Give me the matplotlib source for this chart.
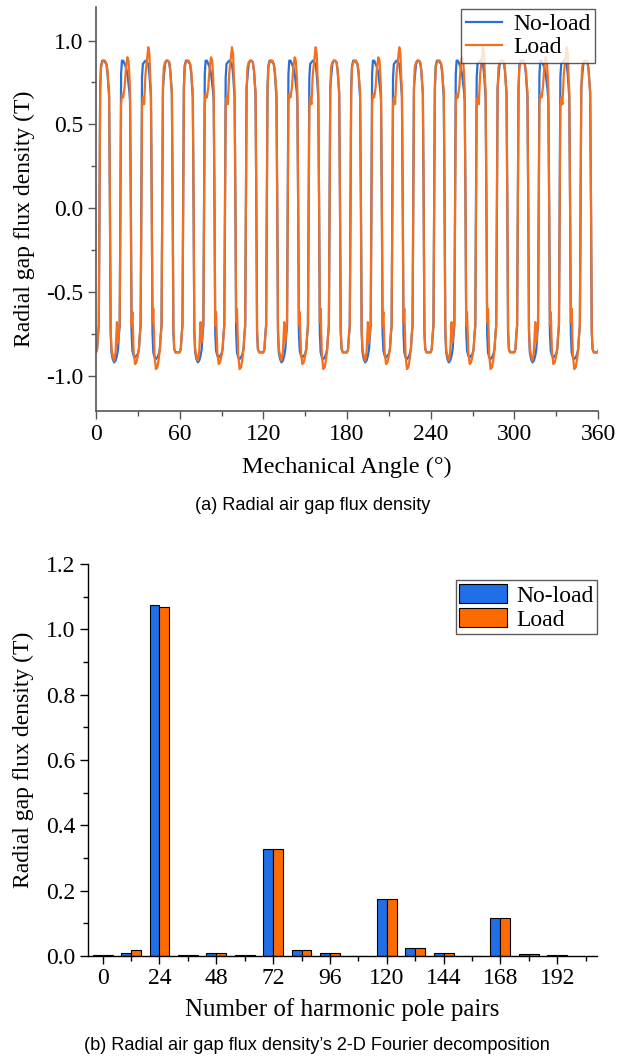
import numpy as np
import matplotlib
matplotlib.use("Agg")
import matplotlib.pyplot as plt
from matplotlib.ticker import MultipleLocator, FormatStrFormatter

plt.rcParams["font.family"] = ["Liberation Serif", "DejaVu Serif"]
plt.rcParams["axes.unicode_minus"] = False

# ---------------- (a) waveform data ----------------
# offsets (deg) inside one pole pair, measured from the rising zero crossing
pp_offsets = [0.0, 0.5, 1.1, 2.0, 3.0, 4.0, 5.0, 5.8, 6.4, 6.9, 7.5,
              8.0, 8.6, 9.5, 10.5, 11.5, 12.5, 13.3, 13.9, 14.5]
# four successive pole pairs (the pattern repeats every 60 deg)
noload_pp = [
    [0.0, 0.72, 0.85, 0.88, 0.88, 0.87, 0.86, 0.80, 0.72, 0.66, 0.0,
     -0.74, -0.86, -0.90, -0.92, -0.91, -0.88, -0.84, -0.76, -0.70],
    [0.0, 0.80, 0.88, 0.88, 0.86, 0.84, 0.80, 0.74, 0.70, 0.64, 0.0,
     -0.74, -0.85, -0.88, -0.89, -0.88, -0.87, -0.84, -0.76, -0.70],
    [0.0, 0.78, 0.86, 0.87, 0.88, 0.87, 0.86, 0.80, 0.72, 0.66, 0.0,
     -0.74, -0.86, -0.89, -0.90, -0.89, -0.87, -0.84, -0.76, -0.70],
    [0.0, 0.72, 0.78, 0.86, 0.88, 0.88, 0.87, 0.82, 0.74, 0.68, 0.0,
     -0.74, -0.84, -0.86, -0.86, -0.86, -0.86, -0.84, -0.76, -0.70],
]
load_pp = [
    [0.0, 0.70, 0.84, 0.87, 0.88, 0.88, 0.86, 0.82, 0.74, 0.70, 0.0,
     -0.72, -0.84, -0.88, -0.91, -0.86, -0.68, -0.80, -0.74, -0.68],
    [0.0, 0.62, 0.68, 0.66, 0.72, 0.84, 0.90, 0.88, 0.80, 0.70, 0.0,
     -0.70, -0.62, -0.86, -0.93, -0.92, -0.88, -0.84, -0.76, -0.70],
    [0.0, 0.60, 0.66, 0.62, 0.80, 0.88, 0.96, 0.92, 0.78, 0.70, 0.0,
     -0.68, -0.60, -0.88, -0.96, -0.95, -0.90, -0.84, -0.76, -0.70],
    [0.0, 0.70, 0.84, 0.87, 0.88, 0.88, 0.87, 0.82, 0.74, 0.70, 0.0,
     -0.72, -0.84, -0.86, -0.86, -0.86, -0.86, -0.84, -0.76, -0.70],
]
first_crossing = 2.5   # deg
pole_pair_pitch = 15.0  # deg (24 pole pairs)
n_segments = [-1, 0, 1, 2, 3, 4, 5]

ang, b_nl, b_ld = [], [], []
for s in n_segments:
    for k in range(4):
        base = first_crossing + pole_pair_pitch * (4 * s + k)
        ang.extend(base + np.array(pp_offsets))
        b_nl.extend(noload_pp[k])
        b_ld.extend(load_pp[k])
ang = np.array(ang)

# ---------------- (b) harmonic data ----------------
harmonic_orders = [0, 12, 24, 36, 48, 60, 72, 84, 96, 108, 120, 132, 144, 156, 168, 180, 192]
noload_amp = [0.004, 0.010, 1.074, 0.003, 0.010, 0.003, 0.327, 0.017, 0.010, 0.0,
              0.175, 0.024, 0.009, 0.0, 0.116, 0.006, 0.004]
load_amp = [0.004, 0.019, 1.068, 0.003, 0.010, 0.003, 0.327, 0.017, 0.008, 0.0,
            0.175, 0.024, 0.008, 0.0, 0.117, 0.006, 0.003]

C_BLUE_L = "#2a6fd6"
C_ORNG_L = "#f2701f"
C_BLUE_B = "#1f6fe6"
C_ORNG_B = "#ff6a00"

W, H = 618, 1059
fig = plt.figure(figsize=(W / 100, H / 100), dpi=100)

def fx(px):
    return px / W

def fy(py):
    return 1 - py / H

FS = 17
SANS = ["Liberation Sans", "DejaVu Sans"]

# ---------- top axes ----------
top_px, bot_px, l_px, r_px = 7, 411, 96, 598
ax1 = fig.add_axes([fx(l_px), fy(bot_px), fx(r_px - l_px), (bot_px - top_px) / H])
ax1.plot(ang, b_nl, color=C_BLUE_L, lw=1.6, label="No-load")
ax1.plot(ang, b_ld, color=C_ORNG_L, lw=1.6, label="Load")
ax1.set_xlim(0, 360)
ax1.set_ylim(-1.21, 1.2)
ax1.xaxis.set_major_locator(MultipleLocator(60))
ax1.xaxis.set_minor_locator(MultipleLocator(30))
ax1.yaxis.set_major_locator(MultipleLocator(0.5))
ax1.yaxis.set_minor_locator(MultipleLocator(0.25))
ax1.yaxis.set_major_formatter(FormatStrFormatter("%.1f"))
for sp in ["top", "right"]:
    ax1.spines[sp].set_visible(False)
for sp in ["left", "bottom"]:
    ax1.spines[sp].set_color("#555555")
    ax1.spines[sp].set_linewidth(1.2)
ax1.tick_params(which="major", direction="out", length=6, width=1.0, color="#555555",
                labelsize=FS, pad=3)
ax1.tick_params(which="minor", direction="out", length=3.5, width=1.0, color="#555555")
ax1.set_xlabel("Mechanical Angle (°)", fontsize=17.5, labelpad=9)
ax1.set_ylabel("Radial gap flux density (T)", fontsize=FS)
ax1.yaxis.set_label_coords(-0.122, 0.475)
leg1 = ax1.legend(loc="upper right", bbox_to_anchor=(0.995, 0.995), fontsize=FS,
                  frameon=True, fancybox=False, borderaxespad=0, borderpad=0.2,
                  labelspacing=0.05, handlelength=1.5, handletextpad=0.5)
leg1.get_frame().set_edgecolor("#333333")
leg1.get_frame().set_linewidth(1.0)

fig.text(fx(313), fy(506), "(a) Radial air gap flux density", ha="center", va="center",
         fontsize=13.1, family=SANS)

# ---------- bottom axes ----------
ax2 = fig.add_axes([fx(88), fy(956), fx(597 - 88), (956 - 564) / H])
bw = 4.2
x = np.array(harmonic_orders, dtype=float)
ax2.bar(x - bw / 2, noload_amp, width=bw, color=C_BLUE_B, edgecolor="black", lw=0.8,
        label="No-load")
ax2.bar(x + bw / 2, load_amp, width=bw, color=C_ORNG_B, edgecolor="black", lw=0.8,
        label="Load")
ax2.set_xlim(-6.2, 208.8)
ax2.set_ylim(0, 1.2)
ax2.xaxis.set_major_locator(MultipleLocator(24))
ax2.xaxis.set_minor_locator(MultipleLocator(12))
ax2.yaxis.set_major_locator(MultipleLocator(0.2))
ax2.yaxis.set_minor_locator(MultipleLocator(0.1))
ax2.yaxis.set_major_formatter(FormatStrFormatter("%.1f"))
for sp in ["top", "right"]:
    ax2.spines[sp].set_visible(False)
for sp in ["left", "bottom"]:
    ax2.spines[sp].set_linewidth(1.0)
ax2.tick_params(which="major", direction="out", length=6, width=1.0, labelsize=FS, pad=3)
ax2.tick_params(which="minor", direction="out", length=3.5, width=1.0)
ax2.set_xlabel("Number of harmonic pole pairs", fontsize=18, labelpad=6)
ax2.set_ylabel("Radial gap flux density (T)", fontsize=FS)
ax2.yaxis.set_label_coords(-0.106, 0.5)
leg2 = ax2.legend(loc="upper right", bbox_to_anchor=(1.0, 0.959), fontsize=FS,
                  frameon=True, fancybox=False, borderaxespad=0, borderpad=0.15,
                  labelspacing=0.05, handlelength=2.0, handleheight=0.9, handletextpad=0.4)
leg2.get_frame().set_edgecolor("#333333")
leg2.get_frame().set_linewidth(1.0)

fig.text(fx(317), fy(1045), "(b) Radial air gap flux density\u2019s 2-D Fourier decomposition",
         ha="center", va="center", fontsize=13.1, family=SANS)

fig.savefig("out.png", dpi=100)
